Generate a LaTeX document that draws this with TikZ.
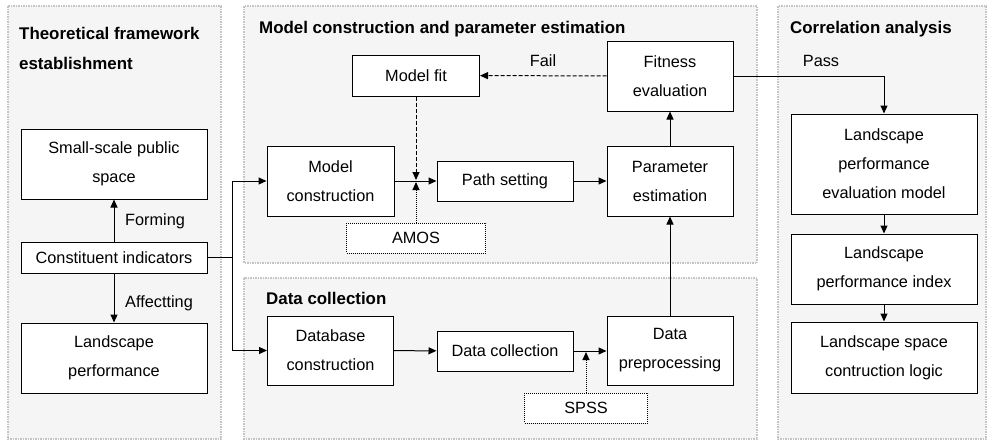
\documentclass[tikz,border=0pt]{standalone}
\usepackage{fontspec}
\setmainfont{Liberation Sans}
\usetikzlibrary{arrows.meta}
\definecolor{fondo}{HTML}{F5F5F5}
\definecolor{borde}{HTML}{C4C4C4}
\begin{document}
\begin{tikzpicture}[x=1pt,y=-1pt,
  caja/.style={draw, line width=1pt, fill=white, align=center, inner sep=0pt,
    font=\fontsize{16.3}{29}\selectfont},
  herr/.style={caja, densely dotted, line width=0.9pt},
  flecha/.style={line width=1pt, -{Triangle[length=8pt,width=7pt]}},
  panel/.style={fill=fondo, draw=borde, line width=1.5pt, dash pattern=on 1.5pt off 1pt},
  titulo/.style={font=\fontsize{16.9}{30}\selectfont\bfseries, align=left, anchor=west, inner sep=0pt},
  etiqueta/.style={font=\fontsize{16.3}{19}\selectfont, inner sep=0pt}]
\useasboundingbox (0,0) rectangle (988,440);
% Paneles
\draw[panel] (8,6) rectangle (221,439);
\draw[panel] (244,6) rectangle (757,263);
\draw[panel] (244,278) rectangle (757,439);
\draw[panel] (778,6) rectangle (986,439);
% Titulos
\node[titulo] (t1) at (19,48) {Theoretical framework\\establishment};
\node[titulo] (t2) at (259,29) {Model construction and parameter estimation};
\node[titulo] (t3) at (266,298) {Data collection};
\node[titulo] (t4) at (790,29) {Correlation analysis};
% Marco teorico
\node[caja, minimum width=186pt, minimum height=70pt] (small) at (114,164) {Small-scale public\\space};
\node[caja, minimum width=186pt, minimum height=31pt] (indic) at (114,257.5) {Constituent indicators};
\node[caja, minimum width=186pt, minimum height=70pt] (lperf) at (114,358) {Landscape\\performance};
\draw[flecha] (indic) -- (small);
\draw[flecha] (indic) -- (lperf);
\node[etiqueta, anchor=west] (forming) at (125,221) {Forming};
\node[etiqueta, anchor=west] (affect) at (125,303) {Affectting};
% Modelo
\node[caja, minimum width=127pt, minimum height=41pt] (mfit) at (416,75.5) {Model fit};
\node[caja, minimum width=127pt, minimum height=70pt] (mcons) at (330.5,181) {Model\\construction};
\node[caja, minimum width=136pt, minimum height=40pt] (path) at (505,181) {Path setting};
\node[herr, minimum width=139pt, minimum height=30pt] (amos) at (416,238) {AMOS};
\node[caja, minimum width=126pt, minimum height=70pt] (fit) at (670,76) {Fitness\\evaluation};
\node[caja, minimum width=126pt, minimum height=70pt] (param) at (670,181) {Parameter\\estimation};
\draw[flecha] (mcons) -- (path);
\draw[flecha, dash pattern=on 4pt off 2pt, shorten >=1pt] (mfit) -- (mfit |- mcons);
\draw[flecha, densely dotted, shorten >=1pt] (amos) -- (amos |- mcons);
\draw[flecha] (path) -- (param);
\draw[flecha] (param) -- (fit);
\draw[flecha, dash pattern=on 4pt off 2pt] (fit) -- (mfit);
\node[etiqueta] (fail) at (543,61) {Fail};
% Datos
\node[caja, minimum width=126pt, minimum height=69pt] (dbase) at (330.5,350.5) {Database\\construction};
\node[caja, minimum width=136pt, minimum height=40pt] (dcol) at (505,351) {Data collection};
\node[caja, minimum width=126pt, minimum height=69pt] (dprep) at (670,350.5) {Data\\preprocessing};
\node[herr, minimum width=123pt, minimum height=30pt] (spss) at (586,408) {SPSS};
\draw[flecha] (dbase) -- (dcol);
\draw[flecha] (dcol.east) -- (dprep.west |- dcol.east);
\draw[flecha, densely dotted, shorten >=1pt] (spss) -- (spss |- dcol);
\draw[flecha] (dprep) -- (param);
% Conexiones desde los indicadores
\coordinate (rama) at (232,257.5);
\draw[line width=1pt] (indic) -- (rama);
\draw[flecha] (rama) |- (mcons);
\draw[flecha] (rama) |- (dbase);
% Analisis de correlacion
\node[caja, minimum width=186pt, minimum height=100pt] (lpem) at (884,164) {Landscape\\performance\\evaluation model};
\node[caja, minimum width=186pt, minimum height=70pt] (lpi) at (884,269) {Landscape\\performance index};
\node[caja, minimum width=186pt, minimum height=71pt] (lscl) at (884,357.5) {Landscape space\\contruction logic};
\draw[flecha] (fit) -| (lpem);
\node[etiqueta] (pass) at (821,61) {Pass};
\draw[flecha] (lpem) -- (lpi);
\draw[flecha] (lpi) -- (lscl);
\end{tikzpicture}
\end{document}
